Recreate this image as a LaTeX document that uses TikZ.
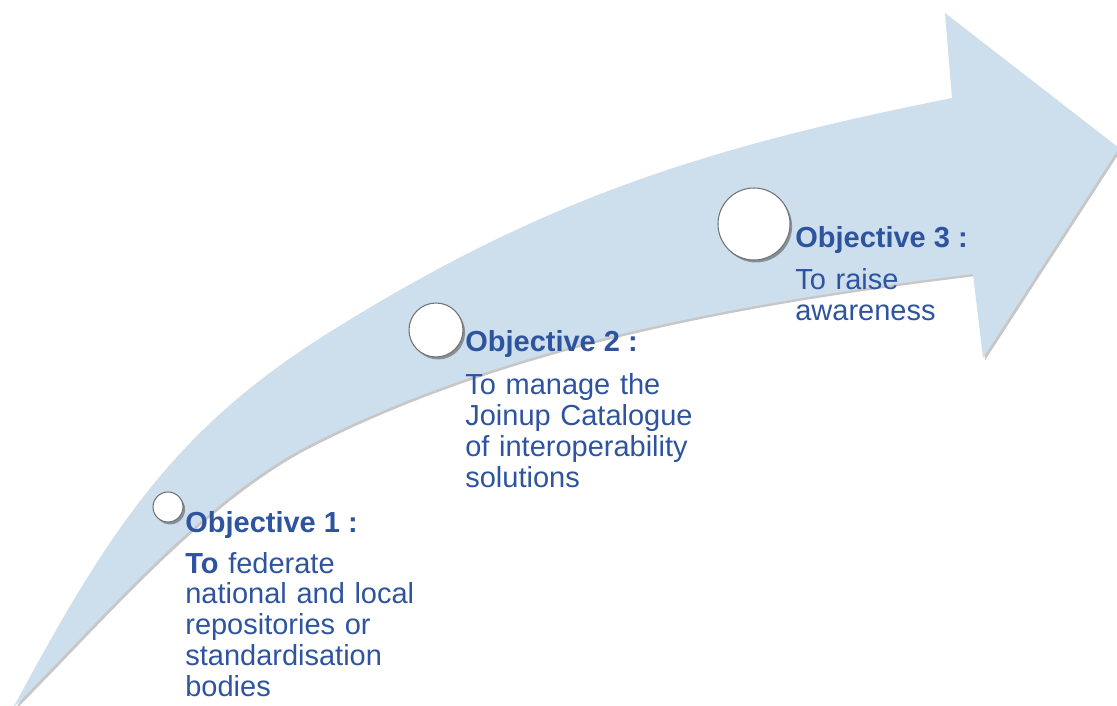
\documentclass[tikz,border=0pt]{standalone}
\usepackage{fontspec}
\setmainfont{Liberation Sans}
\usetikzlibrary{shadows}
\definecolor{bandblue}{RGB}{205,222,237}
\definecolor{textblue}{RGB}{46,84,160}

\begin{document}
\begin{tikzpicture}[x=0.02cm,y=-0.02cm,
  ring/.style={circle,draw=black!55,line width=0.6pt,fill=white,inner sep=0pt,
    drop shadow={fill=black,opacity=0.35,shadow xshift=1.2pt,shadow yshift=-1.4pt}},
  heading/.style={anchor=base west,inner sep=0pt,text=textblue,
    font=\fontsize{16.5}{17.6}\selectfont\bfseries},
  body/.style={anchor=base west,inner sep=0pt,text=textblue,text width=6cm,align=left,
    font=\fontsize{16.5}{17.6}\selectfont}]
\useasboundingbox (0,0) rectangle (1117,706);

% the rising arrow
\coordinate (tail) at (13,708);
\coordinate (mid) at (333,330);
\coordinate (notchup) at (952,98);
\coordinate (headtop) at (945,13);
\coordinate (tip) at (1119,148);
\coordinate (headbot) at (983,358);
\coordinate (notchlow) at (973,274);
\coordinate (low) at (300,450);
\fill[bandblue,drop shadow={fill=black,opacity=0.22,shadow xshift=1.2pt,shadow yshift=-1.2pt}]
  (tail) .. controls (108,532) and (173,429) .. (mid)
  .. controls (545,198) and (707,147) .. (notchup)
  -- (headtop) -- (tip) -- (headbot) -- (notchlow)
  .. controls (743,302) and (500,345) .. (low)
  .. controls (195,508) and (98,623) .. (tail) -- cycle;

% stages
\node[ring,minimum size=0.6cm] (c1) at (168,507) {};
\node[ring,minimum size=1.08cm] (c2) at (436,330) {};
\node[ring,minimum size=1.44cm] (c3) at (754,224) {};

\node[heading] (h1) at (185,532) {Objective 1 :};
\node[body] (b1) at (185,573) {\textbf{To} federate\\national and local\\repositories or\\standardisation\\bodies};

\node[heading] (h2) at (465,352) {Objective 2 :};
\node[body] (b2) at (465,395) {To manage the\\Joinup Catalogue\\of interoperability\\solutions};

\node[heading] (h3) at (795,248) {Objective 3 :};
\node[body] (b3) at (795,290) {To raise\\awareness};
\end{tikzpicture}
\end{document}
